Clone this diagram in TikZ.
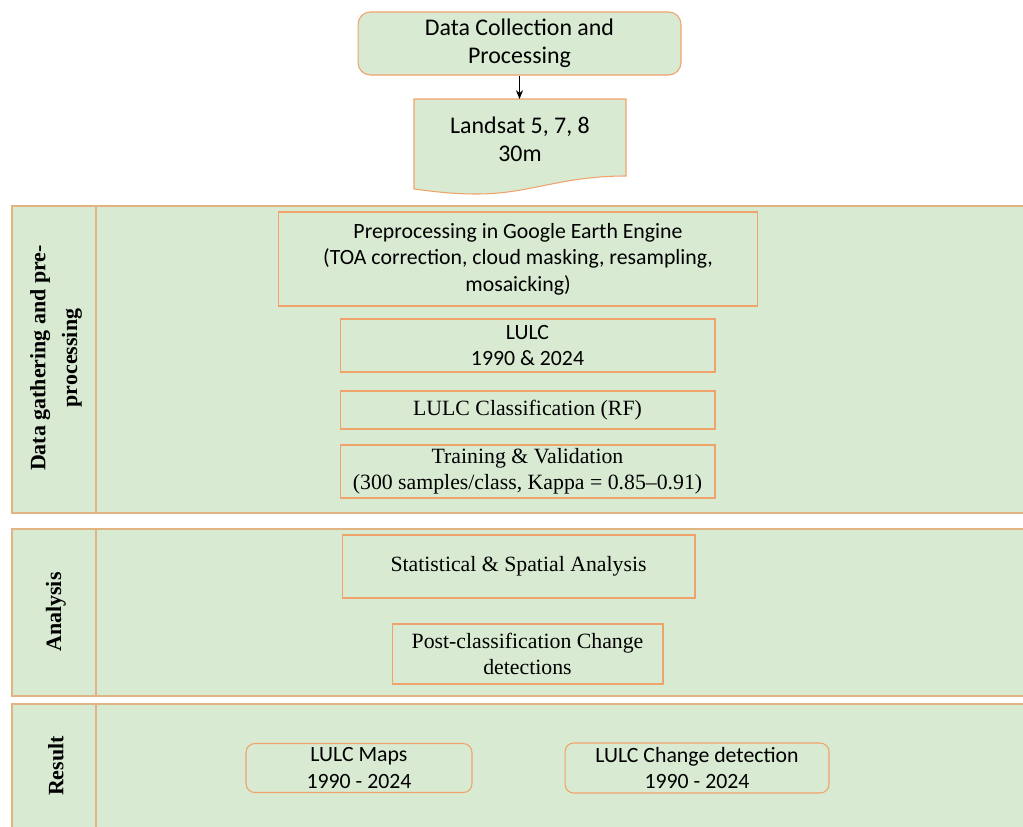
\documentclass[tikz,border=0pt]{standalone}
\usepackage{fontspec}
\setmainfont{Liberation Serif}
\newfontfamily\calibri{Carlito}
\usetikzlibrary{arrows.meta}
\definecolor{panelgreen}{HTML}{D9EAD3}
\definecolor{edgeorange}{HTML}{EFA36A}
\definecolor{paneledge}{HTML}{E2B383}

\begin{document}
\begin{tikzpicture}[x=0.02cm,y=-0.02cm,
        panel/.style={fill=panelgreen,draw=paneledge,line width=0.7pt},
        box/.style={draw=edgeorange,fill=panelgreen,align=center,inner sep=0pt,line width=0.6pt},
        sansbox/.style={box,font=\calibri\fontsize{12.4}{15}\selectfont},
        serifbox/.style={box,font=\fontsize{12.4}{15}\selectfont},
        roundbox/.style={sansbox,rounded corners=5pt},
        sidelabel/.style={rotate=90,align=center,font=\bfseries\fontsize{12.5}{18}\selectfont}]
        \useasboundingbox (0,0) rectangle (1023,826);

        % top of the chart
        \node[sansbox, rounded corners=7pt, minimum width=6.46cm, minimum height=1.26cm,
              font=\calibri\fontsize{13.6}{16}\selectfont] (collect) at (519.5,43.5)
              {Data Collection and\\Processing};
        \draw[fill=panelgreen, draw=edgeorange, line width=0.6pt] (414,99) -- (626,99) -- (626,176)
              .. controls (560,176) and (530,194) .. (477,194)
              .. controls (450,194) and (430,191) .. (414,189) -- cycle;
        \node[align=center, font=\calibri\fontsize{13.6}{16}\selectfont] (landsat) at (520,139)
              {Landsat 5, 7, 8\\30m};
        \coordinate (docTop) at (519.5,99);
        \draw[-{Stealth[length=5pt,width=4pt]}, line width=0.5pt] (collect.south) -- (docTop);

        % panels
        \draw[panel] (12,206) rectangle (1030,513);
        \draw[paneledge, line width=0.7pt] (96,206) -- (96,513);
        \draw[panel] (12,529) rectangle (1030,696);
        \draw[paneledge, line width=0.7pt] (96,529) -- (96,696);
        \draw[panel] (12,704) rectangle (1030,840);
        \draw[paneledge, line width=0.7pt] (96,704) -- (96,840);

        \node[sidelabel] (gather) at (56,358) {Data gathering and pre-\\processing};
        \node[sidelabel] (analysis) at (56,612) {Analysis};
        \node[sidelabel] (result) at (56,766) {Result};

        % pre-processing
        \node[sansbox, minimum width=9.6cm, minimum height=1.88cm] (gee) at (518,259)
              {Preprocessing in Google Earth Engine\\(TOA correction, cloud masking, resampling,\\mosaicking)};
        \node[sansbox, minimum width=7.5cm, minimum height=1.06cm] (lulc) at (527.5,345.5)
              {LULC\\1990 \& 2024};
        \node[serifbox, minimum width=7.5cm, minimum height=0.76cm] (classif) at (527.5,410)
              {LULC Classification (RF)};
        \node[serifbox, minimum width=7.5cm, minimum height=1.06cm] (train) at (527.5,471.5)
              {Training \& Validation\\(300 samples/class, Kappa = 0.85--0.91)};

        % analysis
        \node[serifbox, minimum width=7.06cm, minimum height=1.26cm] (stats) at (518.5,566.5)
              {Statistical \& Spatial Analysis};
        \node[serifbox, minimum width=5.42cm, minimum height=1.2cm] (postclass) at (527.5,654)
              {Post-classification Change\\detections};

        % result
        \node[roundbox, minimum width=4.52cm, minimum height=0.98cm] (maps) at (359,768)
              {LULC Maps\\1990 - 2024};
        \node[roundbox, minimum width=5.28cm, minimum height=1.0cm] (change) at (697,768)
              {LULC Change detection\\1990 - 2024};
    \end{tikzpicture}
\end{document}
